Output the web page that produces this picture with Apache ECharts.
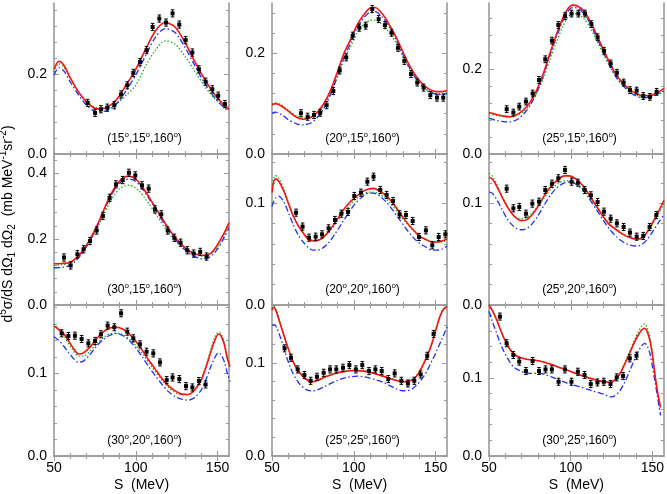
<!DOCTYPE html>
<html>
<head>
<meta charset="utf-8">
<script src="https://cdn.jsdelivr.net/npm/echarts@6/dist/echarts.min.js"></script>
<style>
html, body { margin: 0; padding: 0; background: #fff; }
#chart { width: 667px; height: 494px; }
</style>
</head>
<body>
<div id="chart"></div>
<script>
// angles (theta1, theta2, phi) for every panel, row by row
var angles = [
  ['15', '15', '160'], ['20', '15', '160'], ['25', '15', '160'],
  ['30', '15', '160'], ['20', '20', '160'], ['25', '20', '160'],
  ['30', '20', '160'], ['25', '25', '160'], ['30', '25', '160']
];
var xTicks = [50, 100, 150];
var yMax = [0.378, 0.3, 0.357, 0.458, 0.1485, 0.1485, 0.183, 0.162, 0.193];
var yLabels = [[0, 0.2], [0, 0.2], [0, 0.2], [0, 0.2, 0.4], [0, 0.1], [0, 0.1], [0, 0.1], [0, 0.1], [0, 0.1]];
var yMinorStep = [0.04, 0.04, 0.04, 0.04, 0.02, 0.02, 0.02, 0.02, 0.02];

// ---- (15,15,160)
var p11_S = [70.6, 75.1, 78.7, 82.6, 86.9, 91.0, 94.8, 98.5, 102.6, 106.6, 110.3, 114.4, 118.5, 122.5, 126.6, 130.5, 134.6, 138.6, 142.7, 146.8, 150.4, 154.5];
var p11_v = [0.128, 0.103, 0.112, 0.116, 0.122, 0.149, 0.172, 0.203, 0.23, 0.26, 0.318, 0.339, 0.329, 0.352, 0.324, 0.285, 0.254, 0.212, 0.181, 0.162, 0.146, 0.125];
var p11_err = 0.009;
var p11_red = [[50,0.212],[53,0.232],[56,0.222],[60,0.19],[65,0.155],[70,0.13],[76,0.113],[82,0.116],[88,0.135],[94,0.172],[100,0.212],[106,0.262],[112,0.308],[118,0.329],[124,0.318],[130,0.28],[136,0.232],[142,0.188],[148,0.15],[154,0.122],[157,0.112]];
var p11_blue = [[50,0.198],[53,0.216],[56,0.208],[60,0.18],[65,0.148],[70,0.122],[76,0.106],[82,0.108],[88,0.125],[94,0.158],[100,0.198],[106,0.246],[112,0.292],[118,0.314],[124,0.304],[130,0.268],[136,0.222],[142,0.178],[148,0.142],[154,0.116],[157,0.108]];
var p11_green = [[50,0.205],[53,0.226],[56,0.218],[60,0.19],[65,0.156],[70,0.132],[76,0.116],[82,0.114],[88,0.125],[94,0.147],[100,0.172],[106,0.22],[112,0.26],[118,0.283],[124,0.275],[130,0.245],[136,0.208],[142,0.17],[148,0.14],[154,0.12],[157,0.11]];

// ---- (20,15,160)
var p12_S = [67.7, 71.8, 75.7, 79.5, 83.4, 87.5, 91.4, 95.4, 99.3, 103.4, 107.3, 111.3, 115.2, 119.1, 123.1, 127.0, 130.9, 135.0, 138.8, 142.7, 146.8, 150.9, 154.7];
var p12_v = [0.081, 0.074, 0.0775, 0.082, 0.097, 0.125, 0.166, 0.192, 0.235, 0.251, 0.255, 0.288, 0.268, 0.256, 0.241, 0.211, 0.185, 0.159, 0.142, 0.132, 0.117, 0.112, 0.112];
var p12_err = 0.007;
var p12_red = [[50,0.097],[52,0.1],[56,0.095],[60,0.085],[65,0.073],[69,0.069],[74,0.073],[78,0.084],[82,0.102],[86,0.128],[90,0.163],[94,0.2],[98,0.227],[102,0.256],[106,0.276],[110,0.29],[113,0.291],[118,0.276],[122,0.255],[126,0.231],[130,0.203],[134,0.176],[138,0.155],[142,0.139],[146,0.129],[150,0.124],[154,0.124],[157,0.126]];
var p12_blue = [[50,0.081],[52,0.083],[56,0.078],[60,0.068],[65,0.06],[69,0.058],[74,0.062],[78,0.074],[82,0.093],[86,0.12],[90,0.155],[94,0.192],[98,0.22],[102,0.25],[106,0.27],[110,0.282],[113,0.283],[118,0.27],[122,0.25],[126,0.226],[130,0.198],[134,0.172],[138,0.15],[142,0.134],[146,0.124],[150,0.119],[154,0.118],[157,0.12]];
var p12_green = [[50,0.1],[52,0.102],[56,0.097],[60,0.087],[65,0.075],[69,0.071],[74,0.074],[78,0.083],[82,0.098],[86,0.122],[90,0.153],[94,0.187],[98,0.213],[102,0.24],[106,0.257],[110,0.265],[113,0.266],[118,0.256],[122,0.24],[126,0.22],[130,0.195],[134,0.17],[138,0.15],[142,0.135],[146,0.125],[150,0.12],[154,0.12],[157,0.122]];

// ---- (25,15,160)
var p13_S = [60.8, 64.9, 68.5, 72.6, 76.7, 80.6, 84.4, 88.5, 92.4, 96.5, 100.5, 104.6, 108.7, 112.6, 116.4, 120.3, 124.4, 128.2, 132.3, 136.2, 140.3, 144.3, 148.4, 152.5];
var p13_v = [0.106, 0.098, 0.112, 0.124, 0.143, 0.175, 0.224, 0.268, 0.305, 0.326, 0.332, 0.332, 0.332, 0.307, 0.276, 0.244, 0.214, 0.192, 0.169, 0.151, 0.15, 0.137, 0.135, 0.147];
var p13_err = 0.008;
var p13_red = [[50,0.098],[55,0.093],[60,0.089],[63,0.088],[67,0.093],[71,0.104],[75,0.122],[79,0.15],[83,0.188],[87,0.235],[91,0.28],[95,0.32],[98,0.342],[101,0.352],[104,0.35],[108,0.338],[112,0.313],[116,0.28],[120,0.246],[124,0.214],[128,0.186],[132,0.167],[136,0.152],[140,0.143],[144,0.138],[148,0.138],[152,0.143],[157,0.155]];
var p13_blue = [[50,0.084],[55,0.079],[60,0.076],[63,0.076],[67,0.081],[71,0.094],[75,0.114],[79,0.144],[83,0.183],[87,0.23],[91,0.274],[95,0.313],[98,0.336],[101,0.346],[104,0.345],[108,0.332],[112,0.307],[116,0.274],[120,0.24],[124,0.208],[128,0.18],[132,0.161],[136,0.146],[140,0.137],[144,0.133],[148,0.134],[152,0.139],[157,0.15]];
var p13_green = [[50,0.095],[55,0.091],[60,0.088],[63,0.087],[67,0.091],[71,0.1],[75,0.116],[79,0.142],[83,0.177],[87,0.22],[91,0.262],[95,0.3],[98,0.322],[101,0.332],[104,0.331],[108,0.32],[112,0.297],[116,0.267],[120,0.236],[124,0.206],[128,0.18],[132,0.162],[136,0.148],[140,0.139],[144,0.135],[148,0.135],[152,0.14],[157,0.147]];

// ---- (30,15,160)
var p21_S = [56.1, 60.2, 64.3, 68.1, 72.0, 76.1, 79.9, 84.0, 87.9, 92.0, 95.8, 99.7, 103.8, 107.9, 111.7, 115.6, 119.5, 123.6, 127.4, 131.5, 135.4, 139.4, 143.3];
var p21_v = [0.144, 0.12, 0.154, 0.169, 0.194, 0.226, 0.27, 0.325, 0.366, 0.379, 0.401, 0.393, 0.363, 0.353, 0.29, 0.275, 0.226, 0.204, 0.189, 0.166, 0.156, 0.161, 0.147];
var p21_err = 0.011;
var p21_red = [[50,0.125],[55,0.126],[60,0.13],[63,0.14],[66,0.155],[69,0.175],[72,0.199],[75,0.228],[78,0.26],[81,0.295],[84,0.328],[87,0.355],[90,0.375],[93,0.387],[95.5,0.391],[98,0.388],[101,0.377],[104,0.358],[107,0.336],[110,0.312],[113,0.288],[116,0.263],[119,0.24],[122,0.218],[125,0.199],[128,0.183],[131,0.17],[134,0.16],[137,0.154],[140,0.151],[143,0.151],[146,0.157],[149,0.175],[152,0.2],[155,0.228],[157,0.25]];
var p21_blue = [[50,0.113],[55,0.114],[60,0.12],[63,0.132],[66,0.149],[69,0.17],[72,0.195],[75,0.224],[78,0.256],[81,0.29],[84,0.322],[87,0.349],[90,0.368],[93,0.379],[96,0.382],[99,0.378],[102,0.365],[105,0.346],[108,0.323],[111,0.299],[114,0.274],[117,0.25],[120,0.227],[123,0.206],[126,0.188],[129,0.172],[132,0.159],[135,0.149],[138,0.143],[141,0.14],[144,0.142],[147,0.152],[150,0.17],[153,0.195],[157,0.235]];
var p21_green = [[50,0.12],[55,0.122],[60,0.127],[63,0.137],[66,0.152],[69,0.171],[72,0.193],[75,0.22],[78,0.249],[81,0.28],[84,0.31],[87,0.335],[90,0.352],[93,0.361],[96,0.363],[99,0.358],[102,0.346],[105,0.328],[108,0.307],[111,0.285],[114,0.262],[117,0.24],[120,0.219],[123,0.2],[126,0.185],[129,0.172],[132,0.162],[135,0.155],[138,0.15],[141,0.148],[144,0.15],[147,0.16],[150,0.177],[153,0.2],[157,0.243]];

// ---- (20,20,160)
var p22_S = [64.7, 68.7, 72.6, 76.7, 80.6, 84.6, 88.5, 92.4, 96.5, 100.3, 104.4, 108.3, 112.1, 116.2, 120.1, 124.0, 128.0, 131.9, 136.0, 139.9, 144.1, 148.0, 151.9, 156.0];
var p22_v = [0.0908, 0.0771, 0.0662, 0.0672, 0.0695, 0.0754, 0.0836, 0.0898, 0.0915, 0.1072, 0.1105, 0.1213, 0.1262, 0.1131, 0.1082, 0.1023, 0.0892, 0.0885, 0.0826, 0.0669, 0.0734, 0.0587, 0.0669, 0.0695];
var p22_err = 0.0035;
var p22_red = [[50,0.1105],[52,0.124],[54,0.122],[57,0.113],[60,0.1],[63,0.0875],[66,0.078],[69,0.071],[72,0.065],[75,0.063],[78,0.0635],[81,0.066],[85,0.073],[89,0.082],[93,0.092],[97,0.1],[101,0.106],[105,0.111],[109,0.114],[112,0.1147],[116,0.112],[120,0.107],[124,0.1],[128,0.091],[132,0.082],[136,0.0745],[140,0.068],[144,0.0645],[148,0.062],[151,0.062],[154,0.063],[157,0.0646]];
var p22_blue = [[50,0.097],[52,0.105],[54,0.107],[57,0.102],[60,0.091],[63,0.079],[66,0.069],[69,0.062],[72,0.057],[75,0.054],[78,0.054],[81,0.056],[85,0.062],[89,0.071],[93,0.081],[97,0.091],[101,0.1],[105,0.106],[109,0.11],[112,0.11],[116,0.107],[120,0.101],[124,0.093],[128,0.084],[132,0.075],[136,0.067],[140,0.061],[144,0.057],[148,0.054],[151,0.054],[154,0.055],[157,0.058]];
var p22_green = [[50,0.115],[52,0.1275],[54,0.125],[57,0.115],[60,0.101],[63,0.088],[66,0.078],[69,0.071],[72,0.066],[75,0.064],[78,0.064],[81,0.066],[85,0.072],[89,0.08],[93,0.089],[97,0.097],[101,0.104],[105,0.108],[109,0.111],[112,0.111],[116,0.109],[120,0.104],[124,0.097],[128,0.089],[132,0.081],[136,0.074],[140,0.068],[144,0.064],[148,0.062],[151,0.0615],[154,0.062],[157,0.0635]];

// ---- (25,20,160)
var p23_S = [60.8, 64.9, 68.5, 72.6, 76.5, 80.6, 84.4, 88.5, 92.4, 96.5, 100.5, 104.4, 108.5, 112.3, 116.4, 120.3, 124.4, 128.2, 132.3, 136.2, 140.3, 144.3, 148.2, 152.3];
var p23_v = [0.1144, 0.0951, 0.0964, 0.0898, 0.0997, 0.1016, 0.1131, 0.1193, 0.1246, 0.1328, 0.1213, 0.1203, 0.1131, 0.1079, 0.1013, 0.0918, 0.0849, 0.0803, 0.0767, 0.0712, 0.0672, 0.0679, 0.0767, 0.0885];
var p23_err = 0.0035;
var p23_red = [[50,0.1253],[52,0.124],[55,0.116],[58,0.106],[61,0.097],[64,0.09],[67,0.085],[70,0.083],[73,0.084],[76,0.088],[80,0.097],[84,0.108],[88,0.117],[92,0.123],[96,0.127],[99,0.127],[103,0.124],[107,0.118],[111,0.109],[115,0.099],[119,0.089],[123,0.08],[127,0.075],[131,0.0705],[135,0.067],[139,0.065],[142,0.065],[145,0.068],[149,0.078],[153,0.09],[157,0.103]];
var p23_blue = [[50,0.111],[52,0.11],[55,0.103],[58,0.094],[61,0.085],[64,0.079],[67,0.075],[70,0.074],[73,0.075],[76,0.079],[80,0.088],[84,0.099],[88,0.109],[92,0.116],[96,0.12],[100,0.121],[104,0.118],[108,0.112],[112,0.103],[116,0.093],[120,0.083],[124,0.074],[128,0.067],[132,0.062],[136,0.059],[140,0.058],[143,0.059],[146,0.063],[150,0.072],[154,0.082],[157,0.089]];
var p23_green = [[50,0.1295],[52,0.127],[55,0.118],[58,0.107],[61,0.098],[64,0.09],[67,0.086],[70,0.085],[73,0.086],[76,0.09],[80,0.097],[84,0.106],[88,0.114],[92,0.119],[96,0.122],[99,0.122],[103,0.12],[107,0.115],[111,0.107],[115,0.098],[119,0.089],[123,0.081],[127,0.075],[131,0.07],[135,0.067],[139,0.065],[142,0.065],[145,0.068],[149,0.077],[153,0.088],[157,0.1]];

// ---- (30,20,160)
var p31_S = [54.7, 58.8, 62.8, 66.9, 71.0, 75.1, 78.7, 82.8, 86.9, 91.0, 94.8, 98.5, 102.6, 106.6, 110.7, 114.8, 118.9, 122.5, 126.6, 130.7, 134.6, 138.6, 142.7];
var p31_v = [0.1487, 0.1454, 0.1458, 0.1418, 0.1365, 0.1394, 0.1475, 0.158, 0.156, 0.173, 0.1507, 0.1426, 0.1353, 0.1264, 0.1244, 0.1134, 0.092, 0.0952, 0.0932, 0.0847, 0.0831, 0.0908, 0.0867];
var p31_err = 0.0043;
var p31_red = [[50,0.1576],[53,0.153],[56,0.148],[59,0.139],[62,0.13],[65,0.1236],[68,0.125],[72,0.132],[76,0.142],[80,0.15],[84,0.155],[88,0.156],[92,0.154],[96,0.148],[100,0.139],[104,0.128],[108,0.116],[112,0.105],[116,0.094],[120,0.085],[124,0.079],[128,0.075],[132,0.0745],[136,0.08],[140,0.092],[143,0.108],[146,0.127],[148.5,0.141],[150.5,0.1475],[152,0.146],[154,0.136],[156,0.118],[157.6,0.108]];
var p31_blue = [[50,0.1446],[53,0.14],[56,0.133],[59,0.125],[62,0.118],[65,0.1135],[68,0.115],[72,0.123],[76,0.133],[80,0.141],[84,0.146],[88,0.1487],[92,0.146],[96,0.14],[100,0.131],[104,0.12],[108,0.108],[112,0.097],[116,0.087],[120,0.078],[124,0.072],[128,0.069],[132,0.0677],[136,0.071],[140,0.08],[143,0.093],[146,0.109],[148.5,0.12],[150.5,0.125],[152,0.123],[154,0.115],[156,0.1],[157.6,0.09]];
var p31_green = [[50,0.16],[53,0.154],[56,0.146],[59,0.136],[62,0.127],[65,0.121],[68,0.121],[72,0.127],[76,0.136],[80,0.143],[84,0.148],[88,0.1487],[92,0.147],[96,0.142],[100,0.134],[104,0.124],[108,0.113],[112,0.102],[116,0.092],[120,0.083],[124,0.077],[128,0.074],[132,0.074],[136,0.08],[140,0.093],[143,0.11],[146,0.13],[148.5,0.145],[150.5,0.15],[152,0.148],[154,0.138],[156,0.12],[157.6,0.11]];

// ---- (25,25,160)
var p32_S = [57.7, 61.6, 65.7, 69.8, 73.6, 77.5, 81.6, 85.5, 89.3, 93.4, 97.3, 101.3, 105.2, 109.3, 113.2, 117.1, 121.1, 125.0, 129.1, 133.1, 137.0, 140.9, 144.9, 148.8];
var p32_v = [0.1155, 0.1054, 0.0929, 0.0868, 0.0807, 0.085, 0.0893, 0.0929, 0.0929, 0.0947, 0.0975, 0.0929, 0.0975, 0.0911, 0.0929, 0.0911, 0.0825, 0.0886, 0.0807, 0.0778, 0.0807, 0.0875, 0.1075, 0.1309];
var p32_err = 0.0038;
var p32_red = [[50,0.1567],[51.2,0.1596],[53,0.153],[55,0.142],[57,0.131],[59,0.12],[61,0.11],[63,0.101],[65,0.094],[67,0.089],[69.5,0.0843],[72,0.081],[74.5,0.0796],[78,0.081],[82,0.0845],[86,0.087],[90,0.089],[94,0.0905],[98,0.0914],[102,0.0915],[106,0.0911],[110,0.0897],[114,0.0878],[118,0.0855],[122,0.0832],[126,0.081],[130,0.0796],[134,0.0805],[137,0.083],[140,0.09],[143,0.1],[146,0.112],[148,0.122],[150,0.134],[152,0.146],[154,0.155],[156,0.1592],[157,0.1596]];
var p32_blue = [[50,0.1405],[51.5,0.141],[53,0.137],[55,0.128],[57,0.117],[59,0.106],[61,0.096],[63,0.088],[65,0.082],[67,0.077],[69.5,0.073],[72,0.0705],[75,0.0699],[78,0.0712],[82,0.0745],[86,0.078],[90,0.081],[94,0.0835],[98,0.085],[102,0.0857],[106,0.085],[110,0.0835],[114,0.0815],[118,0.079],[122,0.0755],[126,0.072],[130,0.07],[133,0.0702],[136,0.0725],[139,0.077],[142,0.0835],[145,0.092],[148,0.103],[150,0.11],[152,0.118],[154,0.126],[156,0.134],[157,0.1387]];
var p32_green = [[50,0.158],[51.2,0.161],[53,0.1545],[55,0.143],[57,0.1315],[59,0.1205],[61,0.1105],[63,0.1015],[65,0.0945],[67,0.0895],[69.5,0.0848],[72,0.0815],[74.5,0.0801],[78,0.0815],[82,0.085],[86,0.0875],[90,0.0895],[94,0.091],[98,0.0919],[102,0.092],[106,0.0916],[110,0.0902],[114,0.0883],[118,0.086],[122,0.0837],[126,0.0815],[130,0.0801],[134,0.081],[137,0.0835],[140,0.0905],[143,0.1005],[146,0.1125],[148,0.1228],[150,0.135],[152,0.147],[154,0.156],[156,0.16],[157,0.1605]];

// ---- (30,25,160)
var p33_S = [56.7, 60.8, 64.9, 68.5, 72.6, 76.7, 80.6, 84.6, 88.5, 92.6, 96.5, 100.5, 104.4, 108.5, 112.3, 116.4, 120.3, 124.4, 128.2, 132.1, 136.2, 140.3];
var p33_v = [0.1782, 0.1441, 0.1291, 0.1206, 0.1086, 0.1214, 0.1086, 0.1107, 0.1107, 0.0949, 0.1107, 0.0949, 0.1077, 0.1035, 0.0919, 0.094, 0.0949, 0.0919, 0.1005, 0.1022, 0.1248, 0.1282];
var p33_err = 0.0045;
var p33_red = [[50,0.193],[52,0.186],[54.7,0.174],[56.7,0.163],[58.7,0.1526],[60.8,0.144],[62.8,0.1364],[65,0.131],[67,0.1278],[70,0.1252],[73,0.1236],[77,0.1226],[81,0.1214],[85,0.119],[89,0.1165],[93,0.113],[97.5,0.11],[101.5,0.1067],[105.6,0.1035],[110,0.1005],[114,0.098],[118,0.0957],[122,0.0945],[124.5,0.0942],[127,0.097],[130,0.1045],[133,0.117],[136,0.131],[139,0.145],[141.5,0.155],[143.5,0.161],[145.4,0.1633],[147,0.158],[148.5,0.148],[150,0.13],[151.5,0.1056],[153,0.084],[155,0.062]];
var p33_blue = [[50,0.185],[52,0.172],[54.7,0.157],[56.7,0.145],[58.7,0.1355],[60.8,0.127],[62.8,0.12],[65,0.114],[67,0.111],[70,0.108],[73,0.1058],[77,0.1055],[81,0.1055],[85,0.1035],[89,0.1005],[93,0.097],[97.5,0.0935],[101.5,0.091],[105.6,0.0885],[110,0.0855],[114,0.0828],[118,0.0805],[122,0.0775],[124.5,0.0756],[127,0.077],[130,0.083],[133,0.094],[136,0.108],[139,0.123],[141.5,0.134],[143.5,0.141],[145.4,0.144],[147,0.14],[148.5,0.131],[150,0.115],[151.5,0.097],[153,0.078],[155,0.052]];
var p33_green = [[50,0.194],[52,0.187],[54.7,0.175],[56.7,0.164],[58.7,0.1535],[60.8,0.1445],[62.8,0.1368],[65,0.1312],[67,0.128],[70,0.1254],[73,0.1238],[77,0.1228],[81,0.1216],[85,0.1192],[89,0.1167],[93,0.1132],[97.5,0.1102],[101.5,0.107],[105.6,0.1038],[110,0.1008],[114,0.0984],[118,0.0961],[122,0.095],[124.5,0.0948],[127,0.0978],[130,0.1055],[133,0.1185],[136,0.133],[139,0.148],[141.5,0.159],[143.5,0.166],[145.4,0.169],[147,0.163],[148.5,0.152],[150,0.133],[151.5,0.107],[153,0.085],[155,0.063]];

var measS = [p11_S, p12_S, p13_S, p21_S, p22_S, p23_S, p31_S, p32_S, p33_S];
var measV = [p11_v, p12_v, p13_v, p21_v, p22_v, p23_v, p31_v, p32_v, p33_v];
var measErr = [p11_err, p12_err, p13_err, p21_err, p22_err, p23_err, p31_err, p32_err, p33_err];
var redCurves = [p11_red, p12_red, p13_red, p21_red, p22_red, p23_red, p31_red, p32_red, p33_red];
var blueCurves = [p11_blue, p12_blue, p13_blue, p21_blue, p22_blue, p23_blue, p31_blue, p32_blue, p33_blue];
var greenCurves = [p11_green, p12_green, p13_green, p21_green, p22_green, p23_green, p31_green, p32_green, p33_green];

var FONT = "'Liberation Sans', Arial, sans-serif";
var lefts = [54, 272, 489];
var tops = [3, 154, 305];
var W = 175, H = 151;
var xMin = 50, xMax = 157;
var axisGray = '#9a9a9a';

function minorList(major, step, max) {
  var out = [];
  for (var v = step; v < max - 1e-9; v += step) {
    var r = Math.round(v * 1000) / 1000;
    var isMajor = major.some(function (m) { return Math.abs(m - r) < 1e-6; });
    if (!isMajor) out.push(r);
  }
  return out;
}
var xMinor = minorList(xTicks, 10, xMax).filter(function (v) { return v > xMin; });

function axisBase(extra) {
  var a = {
    type: 'value',
    splitLine: { show: false },
    axisLine: { show: false },
    axisLabel: { show: false },
    axisTick: { show: false }
  };
  for (var k in extra) a[k] = extra[k];
  return a;
}

function renderErr(params, api) {
  var x = api.value(0), y = api.value(1), e = api.value(2);
  var c = api.coord([x, y]);
  var lo = api.coord([x, y - e]);
  var hi = api.coord([x, y + e]);
  var st = { stroke: '#000', lineWidth: 1 };
  return {
    type: 'group',
    children: [
      { type: 'line', shape: { x1: c[0], y1: lo[1], x2: c[0], y2: hi[1] }, style: st },
      { type: 'line', shape: { x1: c[0] - 1.8, y1: lo[1], x2: c[0] + 1.8, y2: lo[1] }, style: st },
      { type: 'line', shape: { x1: c[0] - 1.8, y1: hi[1], x2: c[0] + 1.8, y2: hi[1] }, style: st },
      { type: 'rect', shape: { x: c[0] - 2, y: c[1] - 2, width: 4, height: 4 }, style: { fill: '#000' } }
    ]
  };
}

var grids = [], xAxes = [], yAxes = [], series = [], graphics = [];
for (var g = 0; g < 9; g++) {
  var row = Math.floor(g / 3), col = g % 3;
  grids.push({ left: lefts[col], top: tops[row], width: W, height: H });
  var bottomRow = row === 2;
  var yMinor = minorList(yLabels[g], yMinorStep[g], yMax[g]);
  var tickStyle = { color: axisGray, width: 1 };

  // x axes: bottom major, bottom minor, top major, top minor
  xAxes.push(axisBase({
    gridIndex: g, min: xMin, max: xMax, position: 'bottom',
    axisLine: { show: true, lineStyle: { color: axisGray, width: 1.6 } },
    axisTick: { show: true, inside: true, length: 5, customValues: xTicks, lineStyle: tickStyle },
    axisLabel: {
      show: bottomRow, customValues: xTicks, margin: 5, fontSize: 14,
      color: '#000', fontFamily: FONT
    },
    name: bottomRow ? 'S  (MeV)' : '', nameLocation: 'middle', nameGap: 22,
    nameTextStyle: { fontSize: 14, color: '#000', fontFamily: FONT }
  }));
  xAxes.push(axisBase({
    gridIndex: g, min: xMin, max: xMax, position: 'bottom',
    axisTick: { show: true, inside: true, length: 3, customValues: xMinor, lineStyle: tickStyle }
  }));
  xAxes.push(axisBase({
    gridIndex: g, min: xMin, max: xMax, position: 'top',
    axisLine: { show: true, lineStyle: { color: axisGray, width: 1.6 } },
    axisTick: { show: true, inside: true, length: 5, customValues: xTicks, lineStyle: tickStyle }
  }));
  xAxes.push(axisBase({
    gridIndex: g, min: xMin, max: xMax, position: 'top',
    axisTick: { show: true, inside: true, length: 3, customValues: xMinor, lineStyle: tickStyle }
  }));

  // y axes: left major, left minor, right major, right minor
  yAxes.push(axisBase({
    gridIndex: g, min: 0, max: yMax[g], position: 'left',
    axisLine: { show: true, lineStyle: { color: axisGray, width: 1.6 } },
    axisTick: { show: true, inside: true, length: 5, customValues: yLabels[g], lineStyle: tickStyle },
    axisLabel: {
      show: true, customValues: yLabels[g], margin: 7, fontSize: 14,
      color: '#000', fontFamily: FONT,
      formatter: function (v) { return v.toFixed(1); }
    }
  }));
  yAxes.push(axisBase({
    gridIndex: g, min: 0, max: yMax[g], position: 'left',
    axisTick: { show: true, inside: true, length: 3, customValues: yMinor, lineStyle: tickStyle }
  }));
  yAxes.push(axisBase({
    gridIndex: g, min: 0, max: yMax[g], position: 'right',
    axisLine: { show: true, lineStyle: { color: axisGray, width: 1.6 } },
    axisTick: { show: true, inside: true, length: 5, customValues: yLabels[g], lineStyle: tickStyle }
  }));
  yAxes.push(axisBase({
    gridIndex: g, min: 0, max: yMax[g], position: 'right',
    axisTick: { show: true, inside: true, length: 3, customValues: yMinor, lineStyle: tickStyle }
  }));

  var xi = 4 * g, yi = 4 * g;
  series.push({
    type: 'line', xAxisIndex: xi, yAxisIndex: yi, data: greenCurves[g],
    smooth: 0.3, symbol: 'none', clip: true,
    lineStyle: { color: '#11b011', width: 1.3, type: [1.4, 2] }
  });
  series.push({
    type: 'line', xAxisIndex: xi, yAxisIndex: yi, data: blueCurves[g],
    smooth: 0.3, symbol: 'none', clip: true,
    lineStyle: { color: '#1f2fff', width: 1.3, type: [6, 2.5, 1.5, 2.5] }
  });
  series.push({
    type: 'line', xAxisIndex: xi, yAxisIndex: yi, data: redCurves[g],
    smooth: 0.3, symbol: 'none', clip: true,
    lineStyle: { color: '#ff1010', width: 1.6 }
  });
  var pts = measS[g].map(function (s, i) { return [s, measV[g][i], measErr[g]]; });
  series.push({
    type: 'custom', xAxisIndex: xi, yAxisIndex: yi, data: pts,
    renderItem: renderErr, encode: { x: 0, y: 1 }, z: 5
  });

  var a = angles[g];
  graphics.push({
    type: 'text', x: lefts[col] + W / 2 + 3, y: tops[row] + H - 15,
    style: {
      text: '{n|(' + a[0] + '}{s|o}{n|,' + a[1] + '}{s|o}{n|,' + a[2] + '}{s|o}{n|)}',
      align: 'center', verticalAlign: 'middle',
      rich: {
        n: { fontSize: 12, fontFamily: FONT, fill: '#000' },
        s: { fontSize: 8, fontFamily: FONT, fill: '#000', padding: [0, 0, 9, 0] }
      }
    }
  });
}

graphics.push({
  type: 'text', x: 8, y: 224, rotation: Math.PI / 2,
  style: {
    text: '{n|d}{p|5}{n|\u03c3/dS dΩ}{b|1}{n| dΩ}{b|2}{n|  (mb MeV}{p|-1}{n|sr}{p|-2}{n|)}',
    align: 'center', verticalAlign: 'middle',
    rich: {
      n: { fontSize: 14, fontFamily: FONT, fill: '#000' },
      p: { fontSize: 10, fontFamily: FONT, fill: '#000', padding: [0, 0, 10, 0] },
      b: { fontSize: 10, fontFamily: FONT, fill: '#000', padding: [8, 0, 0, 0] }
    }
  }
});

var chart = echarts.init(document.getElementById('chart'), null, { renderer: 'canvas' });
chart.setOption({
  animation: false,
  backgroundColor: '#fff',
  grid: grids,
  xAxis: xAxes,
  yAxis: yAxes,
  series: series,
  graphic: graphics
});
</script>
</body>
</html>
